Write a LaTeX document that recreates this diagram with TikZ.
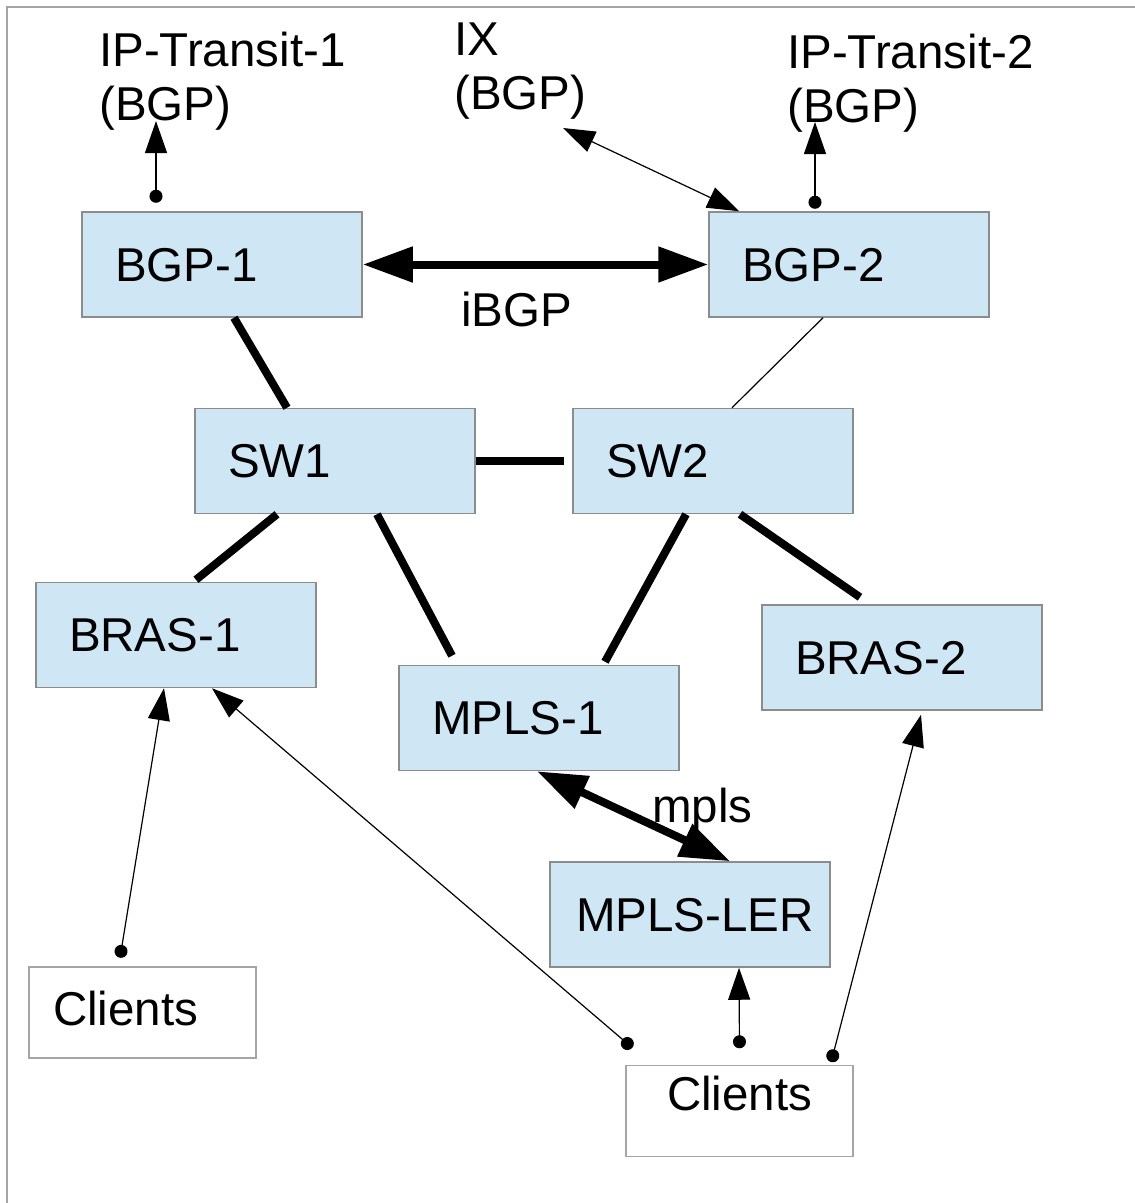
\documentclass[tikz,border=0pt]{standalone}
\usepackage{fontspec}
\setmainfont{Liberation Sans}
\usetikzlibrary{arrows.meta}
\definecolor{boxblue}{RGB}{207,231,245}
\definecolor{edgegray}{RGB}{140,140,140}
\definecolor{pagegray}{RGB}{165,165,165}

\begin{document}
\begin{tikzpicture}[x=1pt,y=-1pt,font=\fontsize{47.5}{54}\selectfont,
		box/.style={draw=edgegray,line width=1.5pt,fill=boxblue,minimum width=280pt,minimum height=105pt,
			inner xsep=33pt,inner ysep=0pt,text width=214pt,align=left,text height=33pt,text depth=0pt},
		client/.style={box,fill=white,draw=pagegray,minimum width=227pt,minimum height=91pt},
		lbl/.style={inner sep=0pt,align=left},
		trunk/.style={line width=8pt},
		feed/.style={line width=1.2pt,{Circle[length=13pt]}-{Triangle[length=32pt,width=22pt]}},
		peer/.style={line width=1.2pt,{Triangle[length=32pt,width=22pt]}-{Triangle[length=32pt,width=22pt]}},
		bigpeer/.style={line width=8pt,{Triangle[length=50pt,width=34pt]}-{Triangle[length=50pt,width=34pt]}}]
		\useasboundingbox (0,0) rectangle (1135,1203);
		%Page edge
		\draw[pagegray,line width=1.5pt] (7,1203) -- (7,7) -- (1135,7);
		%Boxes
		\node[box] (bgp1) at (222,264.5) {BGP-1};
		\node[box] (bgp2) at (849,264.5) {BGP-2};
		\node[box] (sw1) at (335,461) {SW1};
		\node[box] (sw2) at (713,461) {SW2};
		\node[box] (bras1) at (176,635) {BRAS-1};
		\node[box] (mpls1) at (539,718) {MPLS-1};
		\node[box] (bras2) at (902,657.5) {BRAS-2};
		\node[box,inner xsep=26pt,text width=228pt] (ler) at (690,914.5) {\mbox{MPLS-LER}};
		\node[client,inner xsep=24pt,text width=179pt,text depth=8pt] (cli1) at (142.5,1012.5) {Clients};
		\node[client,inner xsep=41pt,text width=145pt,text depth=35pt] (cli2) at (739.5,1111) {Clients};
		%Labels
		\node[lbl,anchor=north west] (tr1) at (99,32) {IP-Transit-1\\(BGP)};
		\node[lbl,anchor=north west] (ix) at (454,23) {IX\\(BGP)};
		\node[lbl,anchor=north west] (tr2) at (787,34) {IP-Transit-2\\(BGP)};
		\node[lbl,anchor=base west] (ibgp) at (461,326) {iBGP};
		\node[lbl,anchor=base west] (mplslbl) at (652,822) {mpls};
		\coordinate (tr1in) at (156,121);
		\coordinate (tr2in) at (815,122);
		\coordinate (ixin) at (563,128);
		%Core links
		\draw[trunk] ([xshift=12pt]bgp1.south) -- ([xshift=-48pt]sw1.north);
		\draw[line width=1.2pt] ([xshift=-26pt]bgp2.south) -- ([xshift=19pt]sw2.north);
		\draw[trunk] (sw1.east) -- ([xshift=-8pt]sw2.west);
		\draw[trunk] ([xshift=-58pt]sw1.south) -- ([xshift=20pt,yshift=2pt]bras1.north);
		\draw[trunk] ([xshift=42pt]sw1.south) -- ([xshift=-87pt,yshift=9pt]mpls1.north);
		\draw[trunk] ([xshift=-27pt]sw2.south) -- ([xshift=66pt,yshift=3pt]mpls1.north);
		\draw[trunk] ([xshift=27pt]sw2.south) -- ([xshift=-42pt,yshift=7pt]bras2.north);
		\draw[bigpeer] (bgp1.east) -- (bgp2.west);
		\draw[bigpeer] ([xshift=-2pt]mpls1.south) -- ([xshift=40pt]ler.north);
		%Upstreams
		\draw[feed] ([xshift=-66pt,yshift=8.5pt]bgp1.north) -- (tr1in);
		\draw[feed] ([xshift=-34pt,yshift=2.5pt]bgp2.north) -- (tr2in);
		\draw[peer] (ixin) -- ([xshift=31pt]bgp2.north west);
		%Clients
		\draw[feed] ([xshift=-22.5pt,yshift=8.5pt]cli1.north) -- ([xshift=-12pt]bras1.south);
		\draw[feed] ([xshift=7pt,yshift=17pt]cli2.north west) -- ([xshift=36pt]bras1.south);
		\draw[feed] ([yshift=16.5pt]cli2.north) -- ([xshift=49pt]ler.south);
		\draw[feed] ([xshift=-22.6pt,yshift=2.7pt]cli2.north east) -- ([xshift=19pt,yshift=-4pt]bras2.south);
\end{tikzpicture}
\end{document}
